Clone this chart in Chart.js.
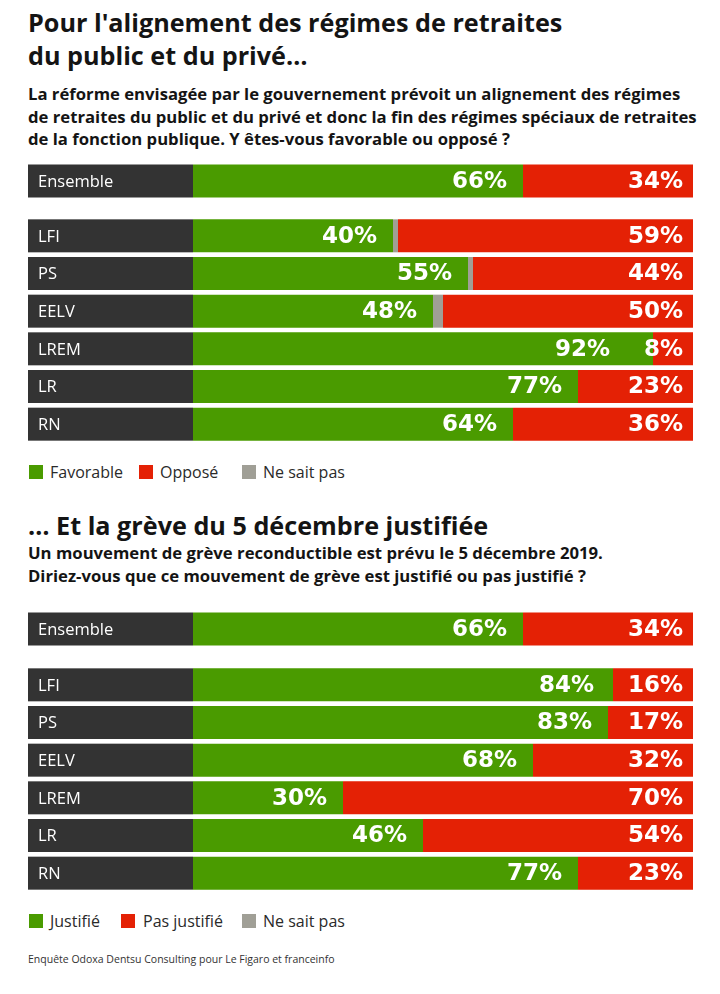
<!DOCTYPE html>
<html><head><meta charset="utf-8">
<script src="https://cdn.jsdelivr.net/npm/chart.js@4/dist/chart.umd.min.js"></script>
<style>
html,body{margin:0;padding:0;background:#fff}
body{width:720px;height:994px;position:relative;overflow:hidden;font-family:"Open Sans",Lato,sans-serif;color:#141414}
.title{position:absolute;left:28px;font-size:25.2px;font-weight:700;line-height:33px;white-space:nowrap}
.sub{position:absolute;left:28px;font-size:16.7px;font-weight:700;line-height:22.5px;white-space:nowrap}
.box{position:absolute;left:28px;width:665px}
.box canvas{display:block}
.legend{position:absolute;left:0;height:20px;width:720px}
.legend .sq{position:absolute;top:3px;width:14px;height:14px}
.legend .lb{position:absolute;top:0;font-size:16px;line-height:20px;color:#2a2a2a;white-space:nowrap}
.foot{position:absolute;left:28px;top:952px;font-size:10.5px;color:#333;white-space:nowrap}
</style></head><body>

<div class="title" style="top:6px">Pour l'alignement des régimes de retraites<br>du public et du privé…</div>
<div class="sub" style="top:83px">La réforme envisagée par le gouvernement prévoit un alignement des régimes<br>de retraites du public et du privé et donc la fin des régimes spéciaux de retraites<br>de la fonction publique. Y êtes-vous favorable ou opposé ?</div>
<div class="box" style="top:162px;height:38px"><canvas id="r1e" width="665" height="38"></canvas></div>
<div class="box" style="top:217px;height:226px"><canvas id="r1p" width="665" height="226"></canvas></div>
<div class="legend" id="leg1" style="top:462px"></div>

<div class="title" style="top:509px">… Et la grève du 5 décembre justifiée</div>
<div class="sub" style="top:542px">Un mouvement de grève reconductible est prévu le 5 décembre 2019.<br>Diriez-vous que ce mouvement de grève est justifié ou pas justifié ?</div>
<div class="box" style="top:610px;height:38px"><canvas id="r2e" width="665" height="38"></canvas></div>
<div class="box" style="top:666px;height:226px"><canvas id="r2p" width="665" height="226"></canvas></div>
<div class="legend" id="leg2" style="top:911px"></div>

<div class="foot">Enquête Odoxa Dentsu Consulting pour Le Figaro et franceinfo</div>

<script>
// ---- data ----
const categories = ['Ensemble', 'LFI', 'PS', 'EELV', 'LREM', 'LR', 'RN'];

const reformSeries = ['Favorable', 'Opposé', 'Ne sait pas'];
const reformFavorable = [66, 40, 55, 48, 92, 77, 64];
const reformOppose    = [34, 59, 44, 50, 8, 23, 36];
const reformNSP       = [0, 1, 1, 2, 0, 0, 0];

const greveSeries = ['Justifié', 'Pas justifié', 'Ne sait pas'];
const greveJustifie    = [66, 84, 83, 68, 30, 46, 77];
const grevePasJustifie = [34, 16, 17, 32, 70, 54, 23];
const greveNSP         = [0, 0, 0, 0, 0, 0, 0];

// ---- styles ----
const GREEN = '#4a9b00', RED = '#e42105', GREY = '#a09f96', DARK = '#333333';
const LABEL_COL = 165;
const ROW_FONT = '16.5px "Open Sans", Lato, sans-serif';
const VAL_FONT = 'bold 23px "DejaVu Sans", "Open Sans", sans-serif';

const panelPlugin = {
  id: 'panel',
  beforeDatasetsDraw(chart) {
    const ctx = chart.ctx, ca = chart.chartArea;
    const meta = chart.getDatasetMeta(0);
    ctx.save();
    meta.data.forEach((bar, i) => {
      const h = bar.height, top = bar.y - h / 2;
      ctx.fillStyle = DARK;
      ctx.fillRect(ca.left - LABEL_COL, top, LABEL_COL, h);
      ctx.fillStyle = '#ffffff';
      ctx.font = ROW_FONT;
      ctx.textBaseline = 'middle';
      ctx.textAlign = 'left';
      ctx.fillText(chart.data.labels[i], ca.left - LABEL_COL + 10, bar.y + 1);
    });
    ctx.restore();
  },
  afterDatasetsDraw(chart) {
    const ctx = chart.ctx;
    const g = chart.getDatasetMeta(0), r = chart.getDatasetMeta(2);
    ctx.save();
    ctx.font = VAL_FONT;
    ctx.fillStyle = '#ffffff';
    ctx.textBaseline = 'middle';
    ctx.textAlign = 'right';
    g.data.forEach((gb, i) => {
      const gv = chart.data.datasets[0].data[i];
      const rv = chart.data.datasets[2].data[i];
      const rb = r.data[i];
      let redLeft = Infinity;
      if (rv > 0) {
        const txt = rv + '%';
        const x = rb.x - 10;
        ctx.fillText(txt, x, rb.y + 1);
        redLeft = x - ctx.measureText(txt).width;
      }
      if (gv > 0) {
        const x = Math.min(gb.x - 16, redLeft - 34);
        ctx.fillText(gv + '%', x, gb.y + 1);
      }
    });
    ctx.restore();
  }
};

function makeChart(id, labels, green, grey, red, names, barPct) {
  return new Chart(document.getElementById(id), {
    type: 'bar',
    data: {
      labels: labels,
      datasets: [
        { label: names[0], data: green, backgroundColor: GREEN },
        { label: names[2], data: grey, backgroundColor: GREY },
        { label: names[1], data: red, backgroundColor: RED }
      ]
    },
    options: {
      indexAxis: 'y',
      responsive: false,
      animation: false,
      devicePixelRatio: 1,
      layout: { padding: { left: LABEL_COL, right: 0, top: 0, bottom: 0 } },
      datasets: { bar: { barPercentage: barPct, categoryPercentage: 1, borderWidth: 0, borderSkipped: false } },
      scales: {
        x: { stacked: true, min: 0, max: 100, display: false },
        y: { stacked: true, display: false }
      },
      plugins: { legend: { display: false }, tooltip: { enabled: false } }
    },
    plugins: [panelPlugin]
  });
}

const pick = (arr, a, b) => arr.slice(a, b);
makeChart('r1e', pick(categories,0,1), pick(reformFavorable,0,1), pick(reformNSP,0,1), pick(reformOppose,0,1), reformSeries, 33/38);
makeChart('r1p', pick(categories,1), pick(reformFavorable,1), pick(reformNSP,1), pick(reformOppose,1), reformSeries, 33/37.67);
makeChart('r2e', pick(categories,0,1), pick(greveJustifie,0,1), pick(greveNSP,0,1), pick(grevePasJustifie,0,1), greveSeries, 33/38);
makeChart('r2p', pick(categories,1), pick(greveJustifie,1), pick(greveNSP,1), pick(grevePasJustifie,1), greveSeries, 33/37.67);

// ---- legends ----
function legend(id, names, pos) {
  const el = document.getElementById(id);
  const cols = [GREEN, RED, GREY];
  names.forEach((n, i) => {
    const sq = document.createElement('div');
    sq.className = 'sq'; sq.style.left = pos[i][0] + 'px'; sq.style.background = cols[i];
    const lb = document.createElement('div');
    lb.className = 'lb'; lb.style.left = pos[i][1] + 'px'; lb.textContent = n;
    el.appendChild(sq); el.appendChild(lb);
  });
}
legend('leg1', reformSeries, [[29,50],[139,160],[242,263]]);
legend('leg2', greveSeries, [[29,50],[121,143],[242,263]]);
</script>
</body></html>
